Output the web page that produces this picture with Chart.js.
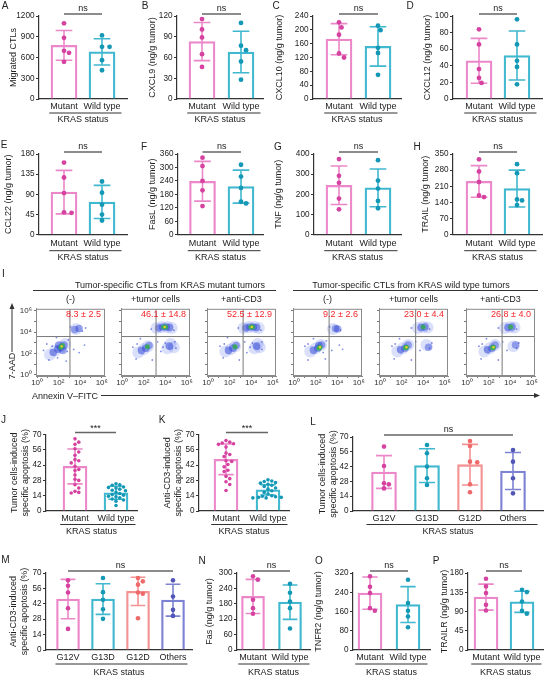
<!DOCTYPE html>
<html><head><meta charset="utf-8"><title>KRAS CTL panels</title>
<script src="https://cdn.jsdelivr.net/npm/chart.js@4.4.1/dist/chart.umd.min.js"></script>
<style>
html,body{margin:0;padding:0;background:#fff}
body{position:relative;width:546px;height:679px;overflow:hidden;font-family:"Liberation Sans",Arial,Helvetica,sans-serif;color:#222}
canvas{position:absolute}
.tx{position:absolute;white-space:nowrap;line-height:1}
</style></head><body>
<svg id="deco" width="546" height="679" style="position:absolute;left:0;top:0"></svg>
<script>
// ================= DATA =================
const krasCats = ['Mutant', 'Wild type'];
const subtypeCats = ['G12V', 'G13D', 'G12D', 'Others'];

// A  Migrated CTLs
const ctlMean = [775, 682], ctlSD = [215, 190];
const ctlMutant = [1094, 885, 697, 668, 537];
const ctlWild = [919, 755, 755, 561, 416];
const ctlAxis = [1200, 300];
// B  CXCL9
const cxcl9Mean = [83, 68], cxcl9SD = [27.5, 30];
const cxcl9Mutant = [115.6, 100.6, 89, 64.8, 46.4];
const cxcl9Wild = [110, 77, 70.6, 54.2, 28];
const cxcl9Axis = [120, 30];
// C  CXCL10
const cxcl10Mean = [173, 152], cxcl10SD = [45, 57];
const cxcl10Mutant = [221.6, 207, 185.8, 131.6, 120];
const cxcl10Wild = [212, 199, 148, 133, 70];
const cxcl10Axis = [240, 40];
// D  CXCL12
const cxcl12Mean = [46, 52.4], cxcl12SD = [27, 29.5];
const cxcl12Mutant = [84, 65.7, 36, 25.4, 19.4];
const cxcl12Wild = [96, 65.7, 46, 38.7, 17.7];
const cxcl12Axis = [100, 20];
// E  CCL22
const ccl22Mean = [95, 73], ccl22SD = [48.5, 37];
const ccl22Mutant = [160.8, 127.6, 92.9, 50, 48.7];
const ccl22Wild = [118.7, 93.7, 67, 45, 31.7];
const ccl22Axis = [180, 45];
// F  FasL
const faslMean = [238.5, 214.5], faslSD = [88.5, 73.5];
const faslMutant = [343.5, 306, 240, 198, 127.5];
const faslWild = [312, 259.5, 208.5, 147, 139.5];
const faslAxis = [360, 60];
// G  TNF
const tnfMean = [245, 232], tnfSD = [95.5, 93.5];
const tnfMutant = [374.6, 291.7, 257, 179, 126];
const tnfWild = [369.6, 268.5, 228.7, 167.4, 131];
const tnfAxis = [400, 100];
// H  TRAIL
const trailMean = [231, 200], trailSD = [68.5, 80];
const trailMutant = [327, 274, 228.6, 170, 163];
const trailWild = [305.7, 267, 153, 148.6, 128.6];
const trailAxis = [350, 70];
// I  flow cytometry (apoptotic % in upper-right quadrant)
const flowConditions = ['(-)', '+tumor cells', '+anti-CD3', '(-)', '+tumor cells', '+anti-CD3'];
const flowMean = [8.3, 46.1, 52.5, 9.2, 23.0, 26.8];
const flowSD = [2.5, 14.8, 12.9, 2.6, 4.4, 4.0];
const flowGateX = [3.05, 3.15, 3.25, 3.25, 3.3, 3.25];   // log10 Annexin V gate
const flowGateY = [3.6, 3.6, 3.6, 3.6, 3.6, 3.6];         // log10 7-AAD gate
const flowTickLabels = ['10\u2070', '', '10\u00B2', '', '10\u2074', '', '10\u2076'];
// event clouds: [log10 Annexin V, log10 7-AAD, density level 0..4]
const flowMutNone = [[1.2,1.9,1],[1.7,2.3,1],[2.2,2.6,1],[2.6,2.9,1],
  [1.5,2.1,2],[1.9,2.4,2],[2.2,2.55,2],[2.5,2.8,2],[2.0,2.8,2],[2.4,2.3,2],[2.2,2.6,3],[2.35,2.75,3],[2.28,2.68,4],
  [3.6,4.3,1],[3.5,4.25,2],[3.9,4.35,2],
  [0.9,2.9,0],[1.1,1.4,0],[2.7,1.3,0],[3.4,2.4,0],[3.9,2.1,0],[4.4,2.8,0],[3.1,4.5,0],[4.2,4.1,0],[4.5,4.4,0],[1.8,3.5,0],[2.9,3.3,0],[0.6,2.3,0],[1.4,2.7,0],[2.8,2.2,0],[1.9,1.6,0]];
const flowMutTumor = [[1.5,2.1,1],[2.0,2.4,1],[2.4,2.7,1],[1.8,2.3,2],[2.2,2.5,2],[2.5,2.75,2],[2.35,2.65,3],
  [3.2,4.4,1],[3.7,4.5,1],[4.2,4.5,1],[4.6,4.4,1],[3.4,4.4,2],[3.75,4.5,2],[4.1,4.5,2],[4.4,4.45,2],[3.85,4.5,3],[4.05,4.5,3],[3.95,4.5,4],
  [4.2,2.5,1],[4.5,2.9,1],[4.8,2.6,1],[4.4,2.7,2],
  [1.0,2.6,0],[1.3,1.5,0],[2.8,1.4,0],[3.6,2.2,0],[5.0,2.5,0],[2.7,4.3,0],[4.8,4.2,0],[1.7,3.4,0],[3.3,3.1,0],[4.9,3.1,0],[4.0,3.0,0],[3.8,2.6,0],[1.4,2.9,0]];
const flowMutCD3 = [[1.6,2.2,1],[2.1,2.4,1],[2.5,2.7,1],[1.9,2.3,2],[2.3,2.5,2],[2.6,2.75,2],[2.5,2.65,3],
  [3.3,4.4,1],[3.8,4.5,1],[4.3,4.5,1],[4.7,4.4,1],[3.5,4.4,2],[3.85,4.5,2],[4.2,4.5,2],[4.5,4.45,2],[3.95,4.5,3],[4.15,4.5,3],[4.05,4.5,4],
  [4.3,2.5,1],[4.6,2.9,1],[4.8,2.6,1],[4.5,2.7,2],
  [1.1,2.7,0],[1.4,1.6,0],[2.9,1.4,0],[3.6,2.1,0],[5.0,2.4,0],[2.8,4.4,0],[4.9,4.2,0],[1.8,3.5,0],[3.4,3.1,0],[5.0,3.1,0],[4.1,3.0,0],[3.9,2.6,0],[1.5,2.9,0]];
const flowWildNone = [[1.5,2.2,1],[2.0,2.5,1],[2.5,2.8,1],[1.8,2.3,2],[2.2,2.5,2],[2.55,2.8,2],[2.3,2.75,2],[2.4,2.6,3],[2.3,2.5,3],[2.4,2.6,4],
  [3.6,4.3,1],[3.85,4.35,2],[4.05,4.3,2],
  [1.0,2.7,0],[1.3,1.4,0],[2.9,1.5,0],[3.5,2.3,0],[4.2,2.8,0],[3.3,4.5,0],[4.3,4.2,0],[1.8,3.4,0],[3.0,3.2,0],[4.5,2.4,0],[1.3,2.9,0],[2.7,2.1,0]];
const flowWildTumor = [[1.6,2.2,1],[2.1,2.5,1],[2.6,2.8,1],[1.9,2.35,2],[2.3,2.5,2],[2.6,2.8,2],[2.45,2.6,3],[2.35,2.55,3],[2.45,2.6,4],
  [3.5,4.4,1],[4.0,4.5,1],[4.4,4.45,1],[3.8,4.45,2],[4.15,4.5,2],[4.0,4.5,3],
  [4.3,2.8,1],[4.5,2.6,2],[1.1,2.7,0],[1.3,1.5,0],[2.9,1.4,0],[3.7,2.3,0],[4.6,2.5,0],[2.9,4.4,0],[4.6,4.3,0],[1.8,3.4,0],[3.3,3.1,0],[4.8,3.0,0],[1.4,2.9,0]];
const flowWildCD3 = [[1.6,2.2,1],[2.1,2.5,1],[2.6,2.8,1],[1.9,2.35,2],[2.3,2.5,2],[2.6,2.8,2],[2.45,2.6,3],[2.35,2.55,3],[2.45,2.6,4],
  [3.5,4.4,1],[4.0,4.5,1],[4.4,4.45,1],[3.8,4.45,2],[4.15,4.5,2],[4.05,4.5,3],
  [4.3,2.7,1],[4.5,2.8,2],[1.1,2.7,0],[1.3,1.5,0],[2.9,1.4,0],[3.7,2.3,0],[4.6,2.5,0],[2.9,4.4,0],[4.6,4.3,0],[1.8,3.4,0],[3.3,3.1,0],[4.8,3.0,0],[1.4,2.9,0]];

// J  Tumor cells-induced apoptosis
const tumorApoMean = [40.8, 16.7], tumorApoSD = [16, 6];
const tumorApoMutant = [66, 63, 61, 57, 54, 51, 47, 46, 44, 41, 38, 37, 33, 29, 28, 24, 21, 18, 17, 16.5];
const tumorApoWild = [25, 24, 23.5, 22, 21.5, 21, 20, 19, 18.5, 17, 16, 15, 14.5, 13.5, 13, 12, 11, 10, 9, 5];
const apoAxis = [70, 14];
// K  Anti-CD3-induced apoptosis
const cd3ApoMean = [47.3, 19.3], cd3ApoSD = [14, 4.7];
const cd3ApoMutant = [64.4, 63, 62.2, 61.6, 61, 58.5, 53, 51.7, 49.8, 46, 45.4, 42.6, 40.4, 37.3, 36.1, 31.7, 29.6, 26.8, 24.3, 18.7];
const cd3ApoWild = [28.5, 27.5, 27, 26, 25.5, 24.5, 23.5, 22.5, 21, 20, 18.5, 17, 15.5, 14, 13.5, 13, 12.5, 12.5, 12, 12];
// L  Tumor cells-induced, by subtype
const subTumorMean = [36.9, 42.9, 43.8, 37.8], subTumorSD = [15.5, 16, 19.2, 17.5];
const subTumorG12V = [60.9, 42.6, 26.2, 25.2, 21.4];
const subTumorG13D = [62.4, 54.6, 42, 31, 24.6];
const subTumorG12D = [66.2, 61.5, 46.7, 46, 25.2, 17.7];
const subTumorOthers = [57.7, 46.7, 31, 16.7];
// M  Anti-CD3-induced, by subtype
const subCD3Mean = [46.3, 46.3, 53.3, 45.3], subCD3SD = [17.9, 13.9, 12.9, 14.5];
const subCD3G12V = [63.3, 58.4, 52.3, 38, 19.2];
const subCD3G13D = [65.4, 52.6, 45.6, 37, 28.3];
const subCD3G12D = [65.4, 62.4, 59.4, 52.3, 51.1, 28.9];
const subCD3Others = [63.3, 48.7, 36.5, 31];
// N  Fas
const fasMean = [208.7, 186.5], fasSD = [66.5, 67];
const fasMutant = [287, 274, 195.6, 163, 141];
const fasWild = [258, 223, 189, 163, 83.5];
const fasAxis = [300, 60];
// O  TNFR2
const tnfr2Mean = [236.5, 189], tnfr2SD = [67, 74.5];
const tnfr2Mutant = [306, 263, 236.5, 174, 163];
const tnfr2Wild = [292, 195, 163, 139, 94.6];
const tnfr2Axis = [320, 80];
// P  TRAILR
const trailrMean = [123.6, 112.7], trailrSD = [30.5, 24.7];
const trailrMutant = [166.7, 148.7, 133, 105.6, 92.3];
const trailrWild = [140.8, 135.4, 113.5, 91.5, 85];
const trailrAxis = [180, 45];

// ================= STYLE =================
const PAL = {
  mut: {bar: '#ec88ca', pt: '#d5429f'},
  wt: {bar: '#40b8cf', pt: '#1598b5'},
  g12d: {bar: '#f59292', pt: '#ee6a6a'},
  oth: {bar: '#7e82d3', pt: '#5257b7'}
};
const FAM = '"Liberation Sans", Arial, Helvetica, sans-serif';
Chart.defaults.font.family = FAM;
Chart.defaults.color = '#222';
const F9 = {size: 9, lineHeight: 1.2};
const F8 = {size: 8.2, lineHeight: 1.2};

function el(tag, css, text) { const e = document.createElement(tag); e.style.cssText = css; if (text != null) e.textContent = text; document.body.appendChild(e); return e; }
function txt(s, x, y, size, o = {}) {
  const tr = o.left ? 'translate(0,-50%)' : 'translate(-50%,-50%)' + (o.rot ? ' rotate(-90deg)' : '');
  return el('div', `left:${x}px;top:${y}px;font-size:${size}px;transform:${tr};color:${o.color || '#222'}`, s).classList.add('tx');
}
const SVGNS = 'http://www.w3.org/2000/svg';
function sline(x1, y1, x2, y2, w, c) { const l = document.createElementNS(SVGNS, 'line'); l.setAttribute('x1', x1); l.setAttribute('y1', y1); l.setAttribute('x2', x2); l.setAttribute('y2', y2); l.setAttribute('stroke', c || '#333'); l.setAttribute('stroke-width', w || 1); document.getElementById('deco').appendChild(l); }
function spoly(pts, c) { const p = document.createElementNS(SVGNS, 'polygon'); p.setAttribute('points', pts); p.setAttribute('fill', c || '#333'); document.getElementById('deco').appendChild(p); }

function swarm(vals, ppu, r) {
  const idx = vals.map((_, i) => i).sort((a, b) => vals[b] - vals[a]);
  const placed = [], out = new Array(vals.length).fill(0);
  const s = r * 1.05, md = 2 * r + 0.3;
  idx.forEach(i => {
    const py = vals[i] * ppu;
    for (let n = 0; n < 80; n++) {
      const o = (n % 2 ? 1 : -1) * Math.ceil(n / 2) * s;
      if (placed.every(p => (p.x - o) ** 2 + (p.y - py) ** 2 >= md * md)) { out[i] = o || 0; placed.push({x: o, y: py}); break; }
    }
  });
  return out;
}

function barPanel(L, D) {
  const left = Math.round(L.titleX - 5.4);
  const AX = L.x0 - left;
  const top = Math.round(L.yTop - 24);
  const PT = L.yTop - top;
  const H = Math.round(L.yZero + L.offs.title + 7 - top);
  const XH = H - (L.yZero - top);
  const W = Math.round(L.x1 + 7 - left);
  const PR = W - (L.x1 - left);
  const cv = document.createElement('canvas');
  cv.width = W; cv.height = H;
  cv.style.cssText = `left:${left}px;top:${top}px;width:${W}px;height:${H}px`;
  document.body.appendChild(cv);
  const ppu = (L.yZero - L.yTop) / D.axis[0];
  const pts = [], ptCols = [];
  D.groups.forEach((vals, i) => {
    const offs = swarm(vals, ppu, L.r);
    vals.forEach((v, k) => { pts.push({x: i + offs[k] / L.d, y: v}); ptCols.push(PAL[D.colors[i]].pt); });
  });
  const n = D.cats.length;
  const min = -(L.c1 - L.x0) / L.d, max = (L.x1 - L.c1) / L.d;
  const deco = {
    id: 'deco' + L.id,
    afterDatasetDraw(chart, args) {
      if (args.index !== 0) return;
      const {ctx} = chart, xs = chart.scales.x, ys = chart.scales.y;
      ctx.save(); ctx.lineWidth = 1.6;
      D.mean.forEach((m, i) => {
        const px = xs.getPixelForValue(i);
        const hi = ys.getPixelForValue(m + D.sd[i]);
        const lo = ys.getPixelForValue(Math.max(0, m - D.sd[i]));
        const cw = L.barW * 0.32;
        ctx.strokeStyle = PAL[D.colors[i]].bar;
        ctx.beginPath();
        ctx.moveTo(px, hi); ctx.lineTo(px, lo);
        ctx.moveTo(px - cw, hi); ctx.lineTo(px + cw, hi);
        ctx.moveTo(px - cw, lo); ctx.lineTo(px + cw, lo);
        ctx.stroke();
      });
      ctx.restore();
    },
    afterDraw(chart) {
      const {ctx, chartArea} = chart, xs = chart.scales.x;
      ctx.save();
      const a = xs.getPixelForValue(0), b = xs.getPixelForValue(n - 1);
      const ly = chartArea.top - 2;
      ctx.strokeStyle = '#666'; ctx.lineWidth = 1.5;
      ctx.beginPath(); ctx.moveTo(a, ly); ctx.lineTo(b, ly); ctx.stroke();
      ctx.fillStyle = '#222'; ctx.font = `9px ${FAM}`; ctx.textAlign = 'center'; ctx.textBaseline = 'middle';
      ctx.fillText(D.sig, (a + b) / 2, chartArea.top - 7.5 + (D.sig === '***' ? 1.5 : 0));
      const w0 = ctx.measureText(D.cats[0]).width, w1 = ctx.measureText(D.cats[n - 1]).width;
      const ul = a - w0 / 2 - 1 - (L.ulx ? L.ulx[0] : 0), ur = b + w1 / 2 + 1 + (L.ulx ? L.ulx[1] : 0);
      const uy = chartArea.bottom + L.offs.line;
      ctx.strokeStyle = '#333'; ctx.lineWidth = 1;
      ctx.beginPath(); ctx.moveTo(ul, uy); ctx.lineTo(ur, uy); ctx.stroke();
      ctx.restore();
    }
  };
  new Chart(cv, {
    type: 'bar',
    data: {datasets: [
      {type: 'bar', data: D.mean.map((m, i) => ({x: i, y: m})), backgroundColor: 'rgba(255,255,255,0)',
       borderColor: D.colors.map(k => PAL[k].bar), borderWidth: 1.6, barThickness: L.barW, order: 2},
      {type: 'scatter', data: pts, pointBackgroundColor: ptCols, pointBorderWidth: 0, pointRadius: L.r, order: 0}
    ]},
    options: {
      responsive: false, animation: false, devicePixelRatio: 1,
      layout: {padding: {top: PT, right: PR, left: 0, bottom: 0}},
      plugins: {legend: {display: false}, tooltip: {enabled: false}},
      scales: {
        x: {type: 'linear', min, max, offset: false,
            grid: {display: false, drawTicks: false},
            border: {display: true, color: '#333', width: 1.2},
            afterBuildTicks: s => { s.ticks = D.cats.map((_, i) => ({value: i})); },
            ticks: {callback: v => D.cats[v] ?? '', font: F9, color: '#222', padding: L.offs.lab - 5.4, autoSkip: false, maxRotation: 0},
            title: {display: true, text: 'KRAS status', font: F9, color: '#222', padding: {top: 0, bottom: 1.6}},
            afterFit: s => { s.height = XH; }},
        y: {min: 0, max: D.axis[0],
            ticks: {stepSize: D.axis[1], callback: v => String(v), font: F8, color: '#222', padding: 1.5, autoSkip: false},
            grid: {drawOnChartArea: false, tickLength: 3, color: '#333', tickColor: '#333', tickWidth: 1.2},
            border: {color: '#333', width: 1.2},
            title: {display: true, text: D.title, font: F9, color: '#222', padding: 0},
            afterFit: s => { s.width = AX; }}
      }
    },
    plugins: [deco]
  });
}

const LEVEL = [
  {r: 0.9, c: 'rgba(45,65,210,0.6)', order: 4},
  {r: 6, c: 'rgba(70,95,230,0.2)', order: 5},
  {r: 3.8, c: 'rgba(35,60,210,0.42)', order: 3},
  {r: 2.5, c: 'rgba(55,175,80,0.85)', order: 2},
  {r: 1.2, c: 'rgba(245,210,40,0.95)', order: 1}
];
function flowPanel(k, events, bx, showY) {
  const BY0 = 306, BY1 = 376, BW = 69, LW = 26, PTOP = 4, XH = 14, PR = 8;
  const left = bx - LW, top = BY0 - PTOP, W = LW + BW + PR, H = PTOP + (BY1 - BY0) + XH;
  const cv = document.createElement('canvas');
  cv.width = W; cv.height = H;
  cv.style.cssText = `left:${left}px;top:${top}px;width:${W}px;height:${H}px`;
  document.body.appendChild(cv);
  const XMIN = -0.1, XMAX = 6.3, YMIN = -0.1, YMAX = 6.2;
  const ds = LEVEL.map((lv, li) => ({type: 'scatter', data: events.filter(e => e[2] === li).map(e => ({x: e[0], y: e[1]})),
    pointRadius: lv.r, pointBackgroundColor: lv.c, pointBorderWidth: 0, order: lv.order}));
  ds.push({type: 'line', data: [{x: flowGateX[k], y: YMIN}, {x: flowGateX[k], y: YMAX}], borderColor: '#7a7a7a', borderWidth: 1, pointRadius: 0, order: 0});
  ds.push({type: 'line', data: [{x: XMIN, y: flowGateY[k]}, {x: XMAX, y: flowGateY[k]}], borderColor: '#7a7a7a', borderWidth: 1, pointRadius: 0, order: 0});
  const FT = {size: 8, lineHeight: 1.2};
  const tickVals = s => { s.ticks = flowTickLabels.map((_, i) => ({value: i})); };
  const deco = {
    id: 'flow' + k,
    afterDraw(chart) {
      const {ctx, chartArea: a} = chart;
      ctx.save();
      ctx.strokeStyle = '#8a8a8a'; ctx.lineWidth = 1;
      ctx.strokeRect(a.left + 0.5, a.top + 0.5, a.right - a.left - 1, a.bottom - a.top - 1);
      ctx.fillStyle = '#f2262a'; ctx.font = `9px ${FAM}`; ctx.textAlign = 'right'; ctx.textBaseline = 'middle';
      ctx.fillText(flowMean[k].toFixed(1) + ' \u00B1 ' + flowSD[k].toFixed(1), a.right - 4, a.top + 5.5);
      ctx.restore();
    }
  };
  new Chart(cv, {
    type: 'scatter',
    data: {datasets: ds},
    options: {
      responsive: false, animation: false, devicePixelRatio: 1,
      layout: {padding: {top: PTOP, right: PR, left: 0, bottom: 0}},
      plugins: {legend: {display: false}, tooltip: {enabled: false}},
      scales: {
        x: {type: 'linear', min: XMIN, max: XMAX, afterBuildTicks: tickVals,
            ticks: {callback: v => flowTickLabels[v] ?? '', font: FT, color: '#333', padding: 0, autoSkip: false, maxRotation: 0},
            grid: {drawOnChartArea: false, tickLength: 2, color: '#777'}, border: {color: '#8a8a8a', width: 1},
            afterFit: s => { s.height = XH; }},
        y: {min: YMIN, max: YMAX, afterBuildTicks: tickVals,
            ticks: {callback: v => showY ? (flowTickLabels[v] ?? '') : '', font: FT, color: '#333', padding: 2, autoSkip: false},
            grid: {drawOnChartArea: false, tickLength: 2, color: '#777'}, border: {color: '#8a8a8a', width: 1},
            afterFit: s => { s.width = LW; }}
      }
    },
    plugins: [deco]
  });
}

// ================= LAYOUT =================
const R1 = {yTop: 16, yZero: 99, offs: {lab: 8, line: 14, title: 21}};
const R2 = {yTop: 154, yZero: 234.7, offs: {lab: 9, line: 16, title: 23}};
const R3 = {yTop: 434.5, yZero: 511, offs: {lab: 8, line: 13.5, title: 20.5}};
const R4 = {yTop: 573, yZero: 650, offs: {lab: 8, line: 14, title: 23}};
const two = ['mut', 'wt'], four = ['mut', 'wt', 'g12d', 'oth'];
const ngTitle = s => s + ' (ng/g tumor)';

const panels = [
  [{...R1, id: 'A', x0: 39, x1: 127, c1: 64, d: 38, titleX: 13, barW: 26, r: 2.4},
   {cats: krasCats, mean: ctlMean, sd: ctlSD, groups: [ctlMutant, ctlWild], colors: two, axis: ctlAxis, title: 'Migrated CTLs', sig: 'ns'}],
  [{...R1, id: 'B', x0: 177, x1: 263, c1: 202, d: 39, titleX: 152, barW: 26, r: 2.4},
   {cats: krasCats, mean: cxcl9Mean, sd: cxcl9SD, groups: [cxcl9Mutant, cxcl9Wild], colors: two, axis: cxcl9Axis, title: ngTitle('CXCL9'), sig: 'ns'}],
  [{...R1, id: 'C', x0: 313, x1: 401, c1: 339, d: 39, titleX: 279, barW: 26, r: 2.4},
   {cats: krasCats, mean: cxcl10Mean, sd: cxcl10SD, groups: [cxcl10Mutant, cxcl10Wild], colors: two, axis: cxcl10Axis, title: ngTitle('CXCL10'), sig: 'ns'}],
  [{...R1, id: 'D', x0: 453, x1: 542, c1: 479, d: 38, titleX: 427, barW: 26, r: 2.4},
   {cats: krasCats, mean: cxcl12Mean, sd: cxcl12SD, groups: [cxcl12Mutant, cxcl12Wild], colors: two, axis: cxcl12Axis, title: ngTitle('CXCL12'), sig: 'ns'}],
  [{...R2, id: 'E', x0: 39, x1: 127, c1: 64, d: 38, titleX: 8, barW: 26, r: 2.4},
   {cats: krasCats, mean: ccl22Mean, sd: ccl22SD, groups: [ccl22Mutant, ccl22Wild], colors: two, axis: ccl22Axis, title: ngTitle('CCL22'), sig: 'ns'}],
  [{...R2, id: 'F', x0: 178, x1: 263, c1: 202.5, d: 38.5, titleX: 152, barW: 26, r: 2.4},
   {cats: krasCats, mean: faslMean, sd: faslSD, groups: [faslMutant, faslWild], colors: two, axis: faslAxis, title: ngTitle('FasL'), sig: 'ns'}],
  [{...R2, id: 'G', x0: 314, x1: 401, c1: 339, d: 39, titleX: 278, barW: 26, r: 2.4},
   {cats: krasCats, mean: tnfMean, sd: tnfSD, groups: [tnfMutant, tnfWild], colors: two, axis: tnfAxis, title: ngTitle('TNF'), sig: 'ns'}],
  [{...R2, id: 'H', x0: 453, x1: 542, c1: 479, d: 38, titleX: 425, barW: 26, r: 2.4},
   {cats: krasCats, mean: trailMean, sd: trailSD, groups: [trailMutant, trailWild], colors: two, axis: trailAxis, title: ngTitle('TRAIL'), sig: 'ns'}],
  [{...R3, id: 'J', x0: 46, x1: 137, c1: 75, d: 41, titleX: 14, barW: 24, r: 1.8},
   {cats: krasCats, mean: tumorApoMean, sd: tumorApoSD, groups: [tumorApoMutant, tumorApoWild], colors: two, axis: apoAxis, title: ['Tumor cells-induced', 'specific apoptosis (%)'], sig: '***'}],
  [{...R3, id: 'K', x0: 199, x1: 289, c1: 226, d: 42, titleX: 167, barW: 24, r: 1.8},
   {cats: krasCats, mean: cd3ApoMean, sd: cd3ApoSD, groups: [cd3ApoMutant, cd3ApoWild], colors: two, axis: apoAxis, title: ['Anti-CD3-induced', 'specific apoptosis (%)'], sig: '***'}],
  [{...R3, id: 'L', yTop: 437, x0: 353, x1: 543, c1: 384, d: 43, titleX: 322, barW: 25, r: 2.3, ulx: [5, 10]},
   {cats: subtypeCats, mean: subTumorMean, sd: subTumorSD, groups: [subTumorG12V, subTumorG13D, subTumorG12D, subTumorOthers], colors: four, axis: apoAxis, title: ['Tumor cells-induced', 'specific apoptosis (%)'], sig: 'ns'}],
  [{...R4, id: 'M', x0: 46, x1: 192, c1: 68, d: 35, titleX: 13, barW: 23, r: 2.3},
   {cats: subtypeCats, mean: subCD3Mean, sd: subCD3SD, groups: [subCD3G12V, subCD3G13D, subCD3G12D, subCD3Others], colors: four, axis: apoAxis, title: ['Anti-CD3-induced', 'specific apoptosis (%)'], sig: 'ns'}],
  [{...R4, id: 'N', x0: 237, x1: 310, c1: 253, d: 37, titleX: 209, barW: 23, r: 2.3},
   {cats: krasCats, mean: fasMean, sd: fasSD, groups: [fasMutant, fasWild], colors: two, axis: fasAxis, title: ngTitle('Fas'), sig: 'ns'}],
  [{...R4, id: 'O', x0: 353, x1: 430, c1: 370, d: 38, titleX: 318, barW: 24, r: 2.3},
   {cats: krasCats, mean: tnfr2Mean, sd: tnfr2SD, groups: [tnfr2Mutant, tnfr2Wild], colors: two, axis: tnfr2Axis, title: ngTitle('TNFR2'), sig: 'ns'}],
  [{...R4, id: 'P', x0: 468, x1: 543, c1: 486, d: 36, titleX: 444, barW: 24, r: 2.3},
   {cats: krasCats, mean: trailrMean, sd: trailrSD, groups: [trailrMutant, trailrWild], colors: two, axis: trailrAxis, title: ngTitle('TRAILR'), sig: 'ns'}]
];
panels.forEach(([L, D]) => barPanel(L, D));

// flow panels
const flowEvents = [flowMutNone, flowMutTumor, flowMutCD3, flowWildNone, flowWildTumor, flowWildCD3];
const flowBoxX = [36, 121, 207, 293, 379, 466];
flowEvents.forEach((ev, k) => {
  flowPanel(k, ev, flowBoxX[k], k === 0);
  txt(flowConditions[k], flowBoxX[k] + 34.5, 299, 9);
});
txt('Tumor-specific CTLs from KRAS mutant tumors', 170, 284.5, 9);
txt('Tumor-specific CTLs from KRAS wild type tumors', 411, 284.5, 9);
sline(33, 290.5, 276, 290.5, 1);
sline(293, 290.5, 538, 290.5, 1);
txt('7-AAD', 12, 366, 9, {rot: true});
sline(12, 352, 12, 308, 1);
spoly('12,303 9.5,309 14.5,309');
txt('Annexin V\u2013FITC', 32, 395.5, 9, {left: true});
sline(101, 395.5, 535, 395.5, 1);
spoly('540,395.5 534,393 534,398');

// panel letters
[['A', 5, 6], ['B', 145, 6], ['C', 276, 6], ['D', 410, 6], ['E', 4, 145], ['F', 144, 147], ['G', 278, 147], ['H', 417, 147],
 ['I', 3.5, 274], ['J', 3.5, 420], ['K', 162, 420], ['L', 313, 422], ['M', 5.5, 560], ['N', 202, 561], ['O', 319, 561], ['P', 436, 561]]
  .forEach(([s, x, y]) => txt(s, x, y, 10));
</script></body></html>
